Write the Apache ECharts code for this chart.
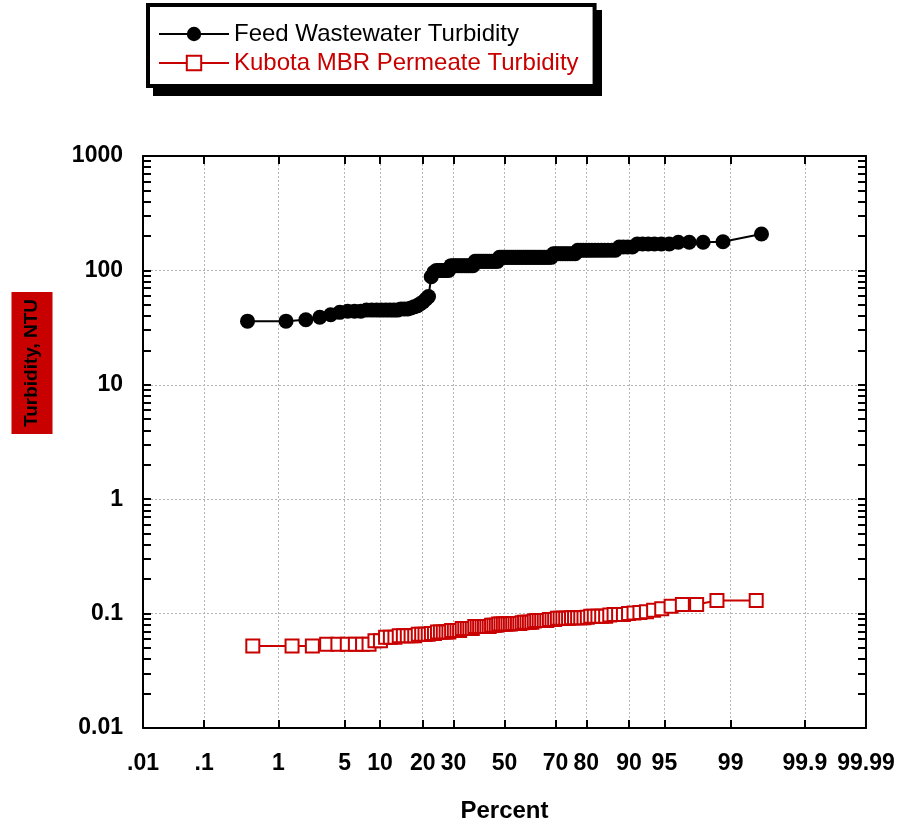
<!DOCTYPE html>
<html><head><meta charset="utf-8">
<script src="https://cdn.jsdelivr.net/npm/echarts@6/dist/echarts.min.js"></script>
<style>html,body{margin:0;padding:0;background:#fff}#chart{width:899px;height:828px}</style>
</head><body><div id="chart"></div>
<script>
// ---- tick definitions ----
const xTickPercents = [0.01, 0.1, 1, 5, 10, 20, 30, 50, 70, 80, 90, 95, 99, 99.9, 99.99];
const xTickLabels = ['.01', '.1', '1', '5', '10', '20', '30', '50', '70', '80', '90', '95', '99', '99.9', '99.99'];
const yTickValues = [0.01, 0.1, 1, 10, 100, 1000];
const yTickLabels = ['0.01', '0.1', '1', '10', '100', '1000'];

// ---- series names ----
const seriesNames = ['Feed Wastewater Turbidity', 'Kubota MBR Permeate Turbidity'];

const feedTurbidity = [
  36, 36, 37, 39, 41, 43, 44, 44, 44, 45,
  45, 45, 45, 45, 45, 45, 45, 46, 46, 46,
  47, 48, 49, 51, 53, 56, 59, 88, 96, 100,
  100, 100, 100, 100, 100, 110, 110, 110, 110, 110,
  110, 110, 110, 110, 110, 110, 120, 120, 120, 120,
  120, 120, 120, 120, 120, 120, 120, 120, 130, 130,
  130, 130, 130, 130, 130, 130, 130, 130, 130, 130,
  130, 130, 130, 130, 130, 130, 130, 130, 130, 130,
  130, 130, 130, 130, 140, 140, 140, 140, 140, 140,
  140, 140, 140, 140, 150, 150, 150, 150, 150, 150,
  150, 150, 150, 150, 150, 150, 150, 160, 160, 160,
  160, 170, 170, 170, 170, 170, 170, 176, 176, 176,
  178, 208
];
const permeateTurbidity = [
  0.052, 0.052, 0.052, 0.054, 0.054, 0.054, 0.054, 0.054, 0.054, 0.058,
  0.058, 0.062, 0.062, 0.062, 0.064, 0.064, 0.064, 0.064, 0.064, 0.066,
  0.066, 0.066, 0.066, 0.067, 0.067, 0.069, 0.069, 0.069, 0.069, 0.069,
  0.071, 0.071, 0.071, 0.071, 0.074, 0.074, 0.074, 0.074, 0.074, 0.077,
  0.077, 0.077, 0.077, 0.077, 0.077, 0.077, 0.079, 0.079, 0.079, 0.081,
  0.081, 0.081, 0.081, 0.081, 0.081, 0.082, 0.082, 0.082, 0.082, 0.083,
  0.084, 0.084, 0.084, 0.084, 0.086, 0.087, 0.087, 0.087, 0.087, 0.087,
  0.089, 0.089, 0.089, 0.091, 0.091, 0.091, 0.091, 0.091, 0.092, 0.092,
  0.092, 0.092, 0.092, 0.093, 0.095, 0.095, 0.095, 0.095, 0.095, 0.097,
  0.098, 0.098, 0.098, 0.1, 0.101, 0.102, 0.104, 0.107, 0.11, 0.116,
  0.12, 0.12, 0.13, 0.13
];

// ---- probability-axis helper: inverse standard normal CDF (Acklam) ----
function probit(p) {
  const a = [-3.969683028665376e+01, 2.209460984245205e+02, -2.759285104469687e+02, 1.383577518672690e+02, -3.066479806614716e+01, 2.506628277459239e+00];
  const b = [-5.447609879822406e+01, 1.615858368580409e+02, -1.556989798598866e+02, 6.680131188771972e+01, -1.328068155288572e+01];
  const c = [-7.784894002430293e-03, -3.223964580411365e-01, -2.400758277161838e+00, -2.549732539343734e+00, 4.374664141464968e+00, 2.938163982698783e+00];
  const d = [7.784695709041462e-03, 3.224671290700398e-01, 2.445134137142996e+00, 3.754408661907416e+00];
  const pl = 0.02425, ph = 1 - pl;
  let q, r;
  if (p < pl) {
    q = Math.sqrt(-2 * Math.log(p));
    return (((((c[0]*q+c[1])*q+c[2])*q+c[3])*q+c[4])*q+c[5]) / ((((d[0]*q+d[1])*q+d[2])*q+d[3])*q+1);
  }
  if (p <= ph) {
    q = p - 0.5; r = q * q;
    return (((((a[0]*r+a[1])*r+a[2])*r+a[3])*r+a[4])*r+a[5])*q / (((((b[0]*r+b[1])*r+b[2])*r+b[3])*r+b[4])*r+1);
  }
  q = Math.sqrt(-2 * Math.log(1 - p));
  return -(((((c[0]*q+c[1])*q+c[2])*q+c[3])*q+c[4])*q+c[5]) / ((((d[0]*q+d[1])*q+d[2])*q+d[3])*q+1);
}
const pctToAxis = pc => probit(pc / 100);
const valToAxis = v => Math.log10(v);

// Hazen plotting positions of sorted observations on the probability axis
function toPoints(values) {
  const n = values.length;
  return values.map((v, i) => [pctToAxis(100 * (i + 0.5) / n), valToAxis(v)]);
}

const xTickPos = xTickPercents.map(pctToAxis);
const yTickPos = yTickValues.map(valToAxis);
const yMinorPos = [];
for (let d = 0; d < yTickValues.length - 1; d++) {
  for (let k = 1; k <= 9; k++) yMinorPos.push(valToAxis(k * yTickValues[d]));
}
yMinorPos.push(valToAxis(yTickValues[yTickValues.length - 1]));

function nearestLabel(positions, labels, v) {
  let best = 0, bd = Infinity;
  positions.forEach((p, i) => { const dd = Math.abs(p - v); if (dd < bd) { bd = dd; best = i; } });
  return labels[best];
}

const RED = '#c80000';
const SANS = "'Liberation Sans', Arial, sans-serif";
const frameLine = { show: true, onZero: false, lineStyle: { color: '#000', width: 2 } };
const tickStyle = { show: true, inside: true, length: 8, lineStyle: { color: '#000', width: 2 } };
const gridStyle = { show: true, lineStyle: { color: '#b4b4b4', width: 1, type: [2, 2] } };

const chart = echarts.init(document.getElementById('chart'), null, { renderer: 'canvas' });
chart.setOption({
  animation: false,
  backgroundColor: '#fff',
  grid: { left: 143, right: 33, top: 156, bottom: 95, containLabel: false },
  legend: {
    left: 148, top: 5, orient: 'vertical', z: 5,
    itemWidth: 70, itemHeight: 18, itemGap: 5,
    padding: [17, 16, 11, 10],
    backgroundColor: '#fff', borderColor: '#000', borderWidth: 4,
    textStyle: { fontFamily: SANS, fontSize: 24, color: '#000' },
    data: [
      { name: seriesNames[0], textStyle: { color: '#000' } },
      { name: seriesNames[1], textStyle: { color: RED } }
    ]
  },
  graphic: [
    { // legend drop shadow
      type: 'rect', z: 1,
      shape: { x: 153, y: 10, width: 449, height: 86 },
      style: { fill: '#000' }
    },
    {
      type: 'text', x: 32, y: 363, rotation: Math.PI / 2, z: 10,
      style: {
        text: 'Turbidity, NTU', fill: '#000',
        font: "bold 19px 'Liberation Sans', Arial, sans-serif",
        align: 'center', verticalAlign: 'middle',
        backgroundColor: RED, padding: [11, 7, 11, 7]
      }
    }
  ],
  xAxis: [
    {
      type: 'value', position: 'bottom', min: xTickPos[0], max: xTickPos[xTickPos.length - 1],
      axisLine: frameLine,
      axisTick: Object.assign({ customValues: xTickPos }, tickStyle),
      axisLabel: {
        customValues: xTickPos, margin: 24, showMinLabel: true, showMaxLabel: true, hideOverlap: false,
        formatter: v => nearestLabel(xTickPos, xTickLabels, v),
        fontFamily: SANS, fontWeight: 'bold', fontSize: 23, color: '#000'
      },
      splitLine: gridStyle,
      name: 'Percent', nameLocation: 'middle', nameGap: 71,
      nameTextStyle: { fontFamily: SANS, fontWeight: 'bold', fontSize: 24, color: '#000' }
    },
    {
      type: 'value', position: 'top', min: xTickPos[0], max: xTickPos[xTickPos.length - 1],
      axisLine: frameLine,
      axisTick: Object.assign({ customValues: xTickPos }, tickStyle),
      axisLabel: { show: false }, splitLine: { show: false }
    }
  ],
  yAxis: [
    {
      type: 'value', position: 'left', min: yTickPos[0], max: yTickPos[yTickPos.length - 1],
      axisLine: frameLine,
      axisTick: Object.assign({ customValues: yMinorPos }, tickStyle),
      axisLabel: {
        customValues: yTickPos, margin: 20, showMinLabel: true, showMaxLabel: true,
        formatter: v => nearestLabel(yTickPos, yTickLabels, v),
        fontFamily: SANS, fontWeight: 'bold', fontSize: 23, color: '#000'
      },
      splitLine: { show: false }
    },
    {
      type: 'value', position: 'right', min: yTickPos[0], max: yTickPos[yTickPos.length - 1],
      axisLine: frameLine,
      axisTick: Object.assign({ customValues: yMinorPos }, tickStyle),
      axisLabel: { show: false }, splitLine: { show: false }
    },
    {
      type: 'value', position: 'left', min: yTickPos[0], max: yTickPos[yTickPos.length - 1], interval: 1,
      axisLine: { show: false, onZero: false }, axisTick: { show: false, customValues: yTickPos },
      axisLabel: { show: false }, splitLine: gridStyle
    }
  ],
  series: [
    {
      name: seriesNames[0], type: 'line', xAxisIndex: 0, yAxisIndex: 0,
      data: toPoints(feedTurbidity),
      symbol: 'circle', symbolSize: 15,
      itemStyle: { color: '#000' },
      lineStyle: { color: '#000', width: 2 },
      z: 4
    },
    {
      name: seriesNames[1], type: 'line', xAxisIndex: 0, yAxisIndex: 0,
      data: toPoints(permeateTurbidity),
      symbol: 'rect', symbolSize: 13,
      itemStyle: { color: '#fff', borderColor: RED, borderWidth: 2 },
      lineStyle: { color: RED, width: 2 },
      z: 3
    }
  ]
});
</script>
</body></html>
